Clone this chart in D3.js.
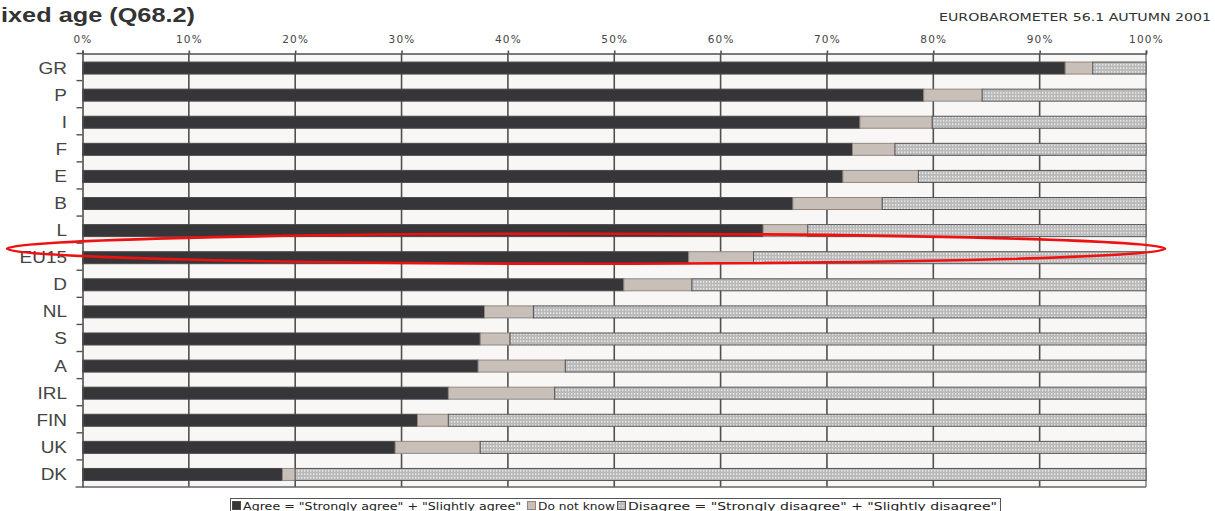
<!DOCTYPE html>
<html>
<head>
<meta charset="utf-8">
<script src="https://cdn.jsdelivr.net/npm/d3@7"></script>
<style>
  body { margin: 0; background: #fff; }
  svg { display: block; }
</style>
</head>
<body>
<div id="viz"></div>
<script>
// values (%), one entry per country
var countries = ["GR", "P", "I", "F", "E", "B", "L", "EU15", "D", "NL", "S", "A", "IRL", "FIN", "UK", "DK"];
var agree     = [92.4, 79.1, 73.1, 72.4, 71.5, 66.8, 64.0, 57.0, 50.9, 37.8, 37.4, 37.2, 34.4, 31.5, 29.4, 18.8];
var dontKnow  = [2.6, 5.5, 6.8, 4.0, 7.1, 8.4, 4.2, 6.1, 6.4, 4.6, 2.8, 8.2, 10.0, 2.9, 8.0, 1.2];
var disagree  = [5.0, 15.4, 20.1, 23.6, 21.4, 24.8, 31.8, 36.9, 42.7, 57.6, 59.8, 54.6, 55.6, 65.6, 62.6, 80.0];
var xTicks = [0, 10, 20, 30, 40, 50, 60, 70, 80, 90, 100];
var legendLabels = ['Agree = "Strongly agree" + "Slightly agree"', 'Do not know', 'Disagree = "Strongly disagree" + "Slightly disagree"'];

var W = 1215, H = 511;
var plotLeft = 82.5, plotRight = 1146, plotTop = 53.5, plotBottom = 487;

var rows = countries.map(function(c, i){
    return {country: c, agree: agree[i], dk: dontKnow[i], disagree: disagree[i]};
});
var keys = ["agree", "dk", "disagree"];
var series = d3.stack().keys(keys)(rows);

var x = d3.scaleLinear().domain([0, 100]).range([plotLeft, plotRight]);
var y = d3.scaleBand().domain(countries).range([plotTop, plotBottom]).padding(0);
var barH = 12;

var svg = d3.select("#viz").append("svg")
    .attr("width", W)
    .attr("height", H);

var defs = svg.append("defs");
var pat = defs.append("pattern")
    .attr("id", "dots")
    .attr("width", 3).attr("height", 3.5)
    .attr("patternUnits", "userSpaceOnUse");
pat.append("rect").attr("width", 3).attr("height", 3.5).attr("fill", "#b9b9b9");
pat.append("rect").attr("x", 1).attr("y", 1).attr("width", 1.4).attr("height", 1.5).attr("fill", "#efefef");

var fills = {agree: "#363538", dk: "#c8bfb9", disagree: "url(#dots)"};
var strokes = {agree: "#4a494b", dk: "#8f8882", disagree: "#555"};

// title, cut at the left edge as in the original
svg.append("text")
    .attr("x", 1).attr("y", 22)
    .attr("textLength", 194).attr("lengthAdjust", "spacingAndGlyphs")
    .style("font-family", "Liberation Sans, Arial, sans-serif")
    .style("font-weight", "bold")
    .style("font-size", "21px")
    .attr("fill", "#333")
    .text("ixed age (Q68.2)");

svg.append("text")
    .attr("x", 939).attr("y", 21)
    .attr("textLength", 272).attr("lengthAdjust", "spacingAndGlyphs")
    .style("font-family", "DejaVu Sans, sans-serif")
    .style("font-size", "10px")
    .attr("fill", "#333")
    .text("EUROBAROMETER 56.1  AUTUMN 2001");

// plot area
svg.append("rect")
    .attr("x", plotLeft).attr("y", plotTop)
    .attr("width", plotRight - plotLeft).attr("height", plotBottom - plotTop)
    .attr("fill", "#f8f7f5");

// vertical grid
svg.append("g").selectAll("line")
    .data(xTicks.slice(1))
    .enter().append("line")
    .attr("x1", function(d){ return x(d); })
    .attr("x2", function(d){ return x(d); })
    .attr("y1", plotTop).attr("y2", plotBottom)
    .attr("stroke", function(d){ return d == 100 ? "#8a8a8a" : "#505050"; })
    .attr("stroke-width", 1.6);

// bars
var barG = svg.append("g");
series.forEach(function(s){
    barG.selectAll(null)
        .data(s)
        .enter().append("rect")
        .attr("x", function(d){ return x(d[0]); })
        .attr("y", function(d){ return y(d.data.country) + y.bandwidth() / 2 - barH / 2 + 1; })
        .attr("width", function(d){ return x(d[1]) - x(d[0]); })
        .attr("height", barH)
        .attr("fill", fills[s.key])
        .attr("stroke", strokes[s.key])
        .attr("stroke-width", 1);
});

// top axis
var xAxis = d3.axisTop(x)
    .tickValues(xTicks)
    .tickSize(3)
    .tickPadding(8)
    .tickFormat(function(d){ return d + "%"; });
var gx = svg.append("g")
    .attr("transform", "translate(0," + plotTop + ")")
    .call(xAxis);
gx.select(".domain").attr("stroke", "#505050").attr("stroke-width", 1.6);
gx.selectAll(".tick line").attr("stroke", "#505050").attr("stroke-width", 1.6);
gx.selectAll(".tick text")
    .attr("fill", "#444")
    .style("font-family", "DejaVu Sans, sans-serif")
    .style("font-size", "10.5px")
    .style("letter-spacing", "1.2px");

// bottom line
svg.append("line")
    .attr("x1", plotLeft - 7).attr("x2", plotRight)
    .attr("y1", plotBottom).attr("y2", plotBottom)
    .attr("stroke", "#666").attr("stroke-width", 1.4);

// left axis with ticks between the rows
var yAxis = d3.axisLeft(y).tickSize(0).tickPadding(0).tickFormat("");
var gy = svg.append("g").attr("transform", "translate(" + plotLeft + ",0)").call(yAxis);
gy.select(".domain").attr("stroke", "#505050").attr("stroke-width", 1.6);
svg.append("g").selectAll("line")
    .data(countries)
    .enter().append("line")
    .attr("x1", plotLeft - 6).attr("x2", plotLeft)
    .attr("y1", function(d){ return y(d); })
    .attr("y2", function(d){ return y(d); })
    .attr("stroke", "#505050").attr("stroke-width", 1.4);

svg.append("g").selectAll("text")
    .data(countries)
    .enter().append("text")
    .attr("transform", function(d){
        return "translate(67," + (y(d) + y.bandwidth() / 2 + 6.5) + ") scale(1.15,1)";
    })
    .attr("text-anchor", "end")
    .style("font-family", "Liberation Sans, Arial, sans-serif")
    .style("font-size", "16.5px")
    .attr("fill", "#444")
    .text(function(d){ return d; });

// legend
var lg = svg.append("g");
lg.append("rect")
    .attr("x", 230.5).attr("y", 498.5)
    .attr("width", 770).attr("height", 20)
    .attr("fill", "#fff").attr("stroke", "#555").attr("stroke-width", 1);
var legendX = [232, 527, 617];
var legendW = [278, 77, 369];
keys.forEach(function(k, i){
    lg.append("rect")
        .attr("x", legendX[i] + 0.5).attr("y", 501.5)
        .attr("width", 8).attr("height", 8)
        .attr("fill", fills[k]).attr("stroke", strokes[k]);
    lg.append("text")
        .attr("x", legendX[i] + 11).attr("y", 509.5)
        .attr("textLength", legendW[i]).attr("lengthAdjust", "spacingAndGlyphs")
        .style("font-family", "DejaVu Sans, sans-serif")
        .style("font-size", "10.5px")
        .attr("fill", "#222")
        .text(legendLabels[i]);
});

// red hand-drawn highlight around EU15
svg.append("ellipse")
    .attr("cx", (x(-7.1) + x(101.8)) / 2)
    .attr("cy", y("EU15") + y.bandwidth() / 2 - 8)
    .attr("rx", (x(101.8) - x(-7.1)) / 2)
    .attr("ry", 15)
    .attr("fill", "none")
    .attr("stroke", "#ee1111")
    .attr("stroke-width", 2.6);
</script>
</body>
</html>
